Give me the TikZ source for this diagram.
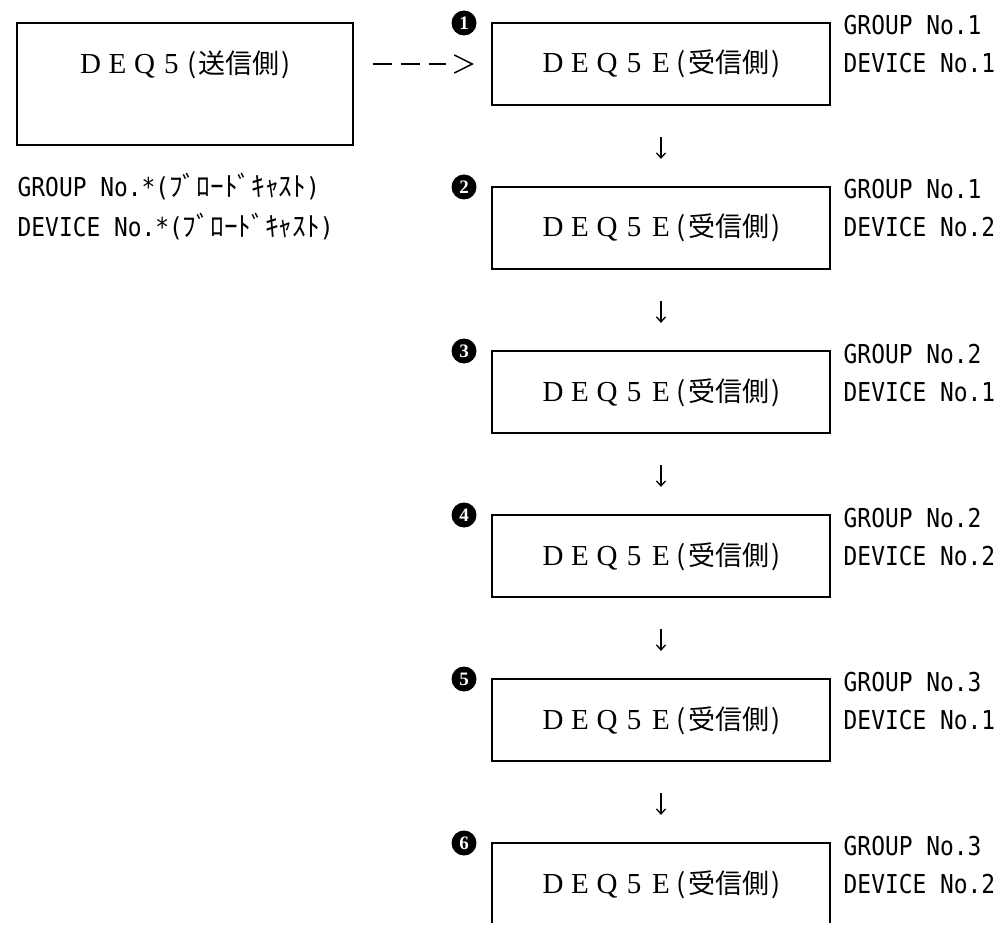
\documentclass[tikz,border=0pt]{standalone}
\usepackage{fontspec}
\setmainfont{Liberation Serif}
\newfontfamily\kana{Noto Sans CJK JP}
\newfontfamily\mono{DejaVu Sans Mono}[FakeStretch=0.88]
\usetikzlibrary{calc, arrows.meta}

% full width and half width cells
\newcommand\zen[1]{\makebox[27pt]{\fontsize{29pt}{29pt}\selectfont#1}}
\newcommand\han[1]{\makebox[13.5pt]{#1}}
\newcommand\bcast{{\kana\fontsize{27.4pt}{27pt}\selectfont ﾌﾞﾛｰﾄﾞｷｬｽﾄ}}

\begin{document}
\begin{tikzpicture}[x=1pt, y=-1pt, line width=1.4pt,
    sendbox/.style={draw, minimum width=336pt, inner sep=0pt,
      text height=51pt, text depth=71pt, font=\fontsize{27pt}{27pt}\selectfont},
    recvbox/.style={draw, minimum width=338pt, inner sep=0pt,
      text height=50pt, text depth=32pt, font=\fontsize{27pt}{27pt}\selectfont},
    badge/.style={circle, fill=black, text=white, minimum size=25pt, inner sep=0pt,
      font=\bfseries\fontsize{19pt}{19pt}\selectfont},
    lbl/.style={anchor=base west, inner sep=0pt, font=\mono\fontsize{26pt}{26pt}\selectfont},
    dashline/.style={line width=2pt, dash pattern=on 19pt off 9pt},
    downarrow/.style={line width=1.3pt, -{Straight Barb[length=5pt, width=9pt]}}]
    \useasboundingbox (0,0) rectangle (998,925);
    \clip (0,0) rectangle (998,922);

    \node[sendbox] (send) at (185,84)
      {\zen{D}\zen{E}\zen{Q}\zen{5}\han{\kana(}{\kana 送信側}\han{\kana)}};
    \node[lbl] (sg) at (17,197) {GROUP No.*(\bcast)};
    \node[lbl] (sd) at (17,237) {DEVICE No.*(\bcast)};

    \foreach \i/\g/\d [evaluate=\i as \ytop using 23+(\i-1)*164] in
        {1/1/1, 2/1/2, 3/2/1, 4/2/2, 5/3/1, 6/3/2} {
      \node[recvbox] (r\i) at (661,\ytop+41)
        {\zen{D}\zen{E}\zen{Q}\zen{5}\zen{E}\han{\kana(}{\kana 受信側}\han{\kana)}};
      \node[badge] (b\i) at (464,\ytop) {\i};
      \node[lbl] (g\i) at (843,\ytop+12) {GROUP No.\g};
      \node[lbl] (d\i) at (843,\ytop+50) {DEVICE No.\d};
    }

    \foreach \i [count=\j from 2] in {1,...,5}
      \draw[downarrow] ($(r\i.south)!0.39!(r\j.north)$) -- ($(r\i.south)!0.66!(r\j.north)$);

    \coordinate (gt) at ($(r1.west)+(-37,0)$);
    \draw[dashline] ($(send.east |- r1.west)+(19,0)$) -- ($(gt)+(-8,0)$);
    \draw[line width=1.5pt] ($(gt)+(0,-9)$) -- ($(gt)+(18,0)$) -- ($(gt)+(0,9)$);
  \end{tikzpicture}
\end{document}
